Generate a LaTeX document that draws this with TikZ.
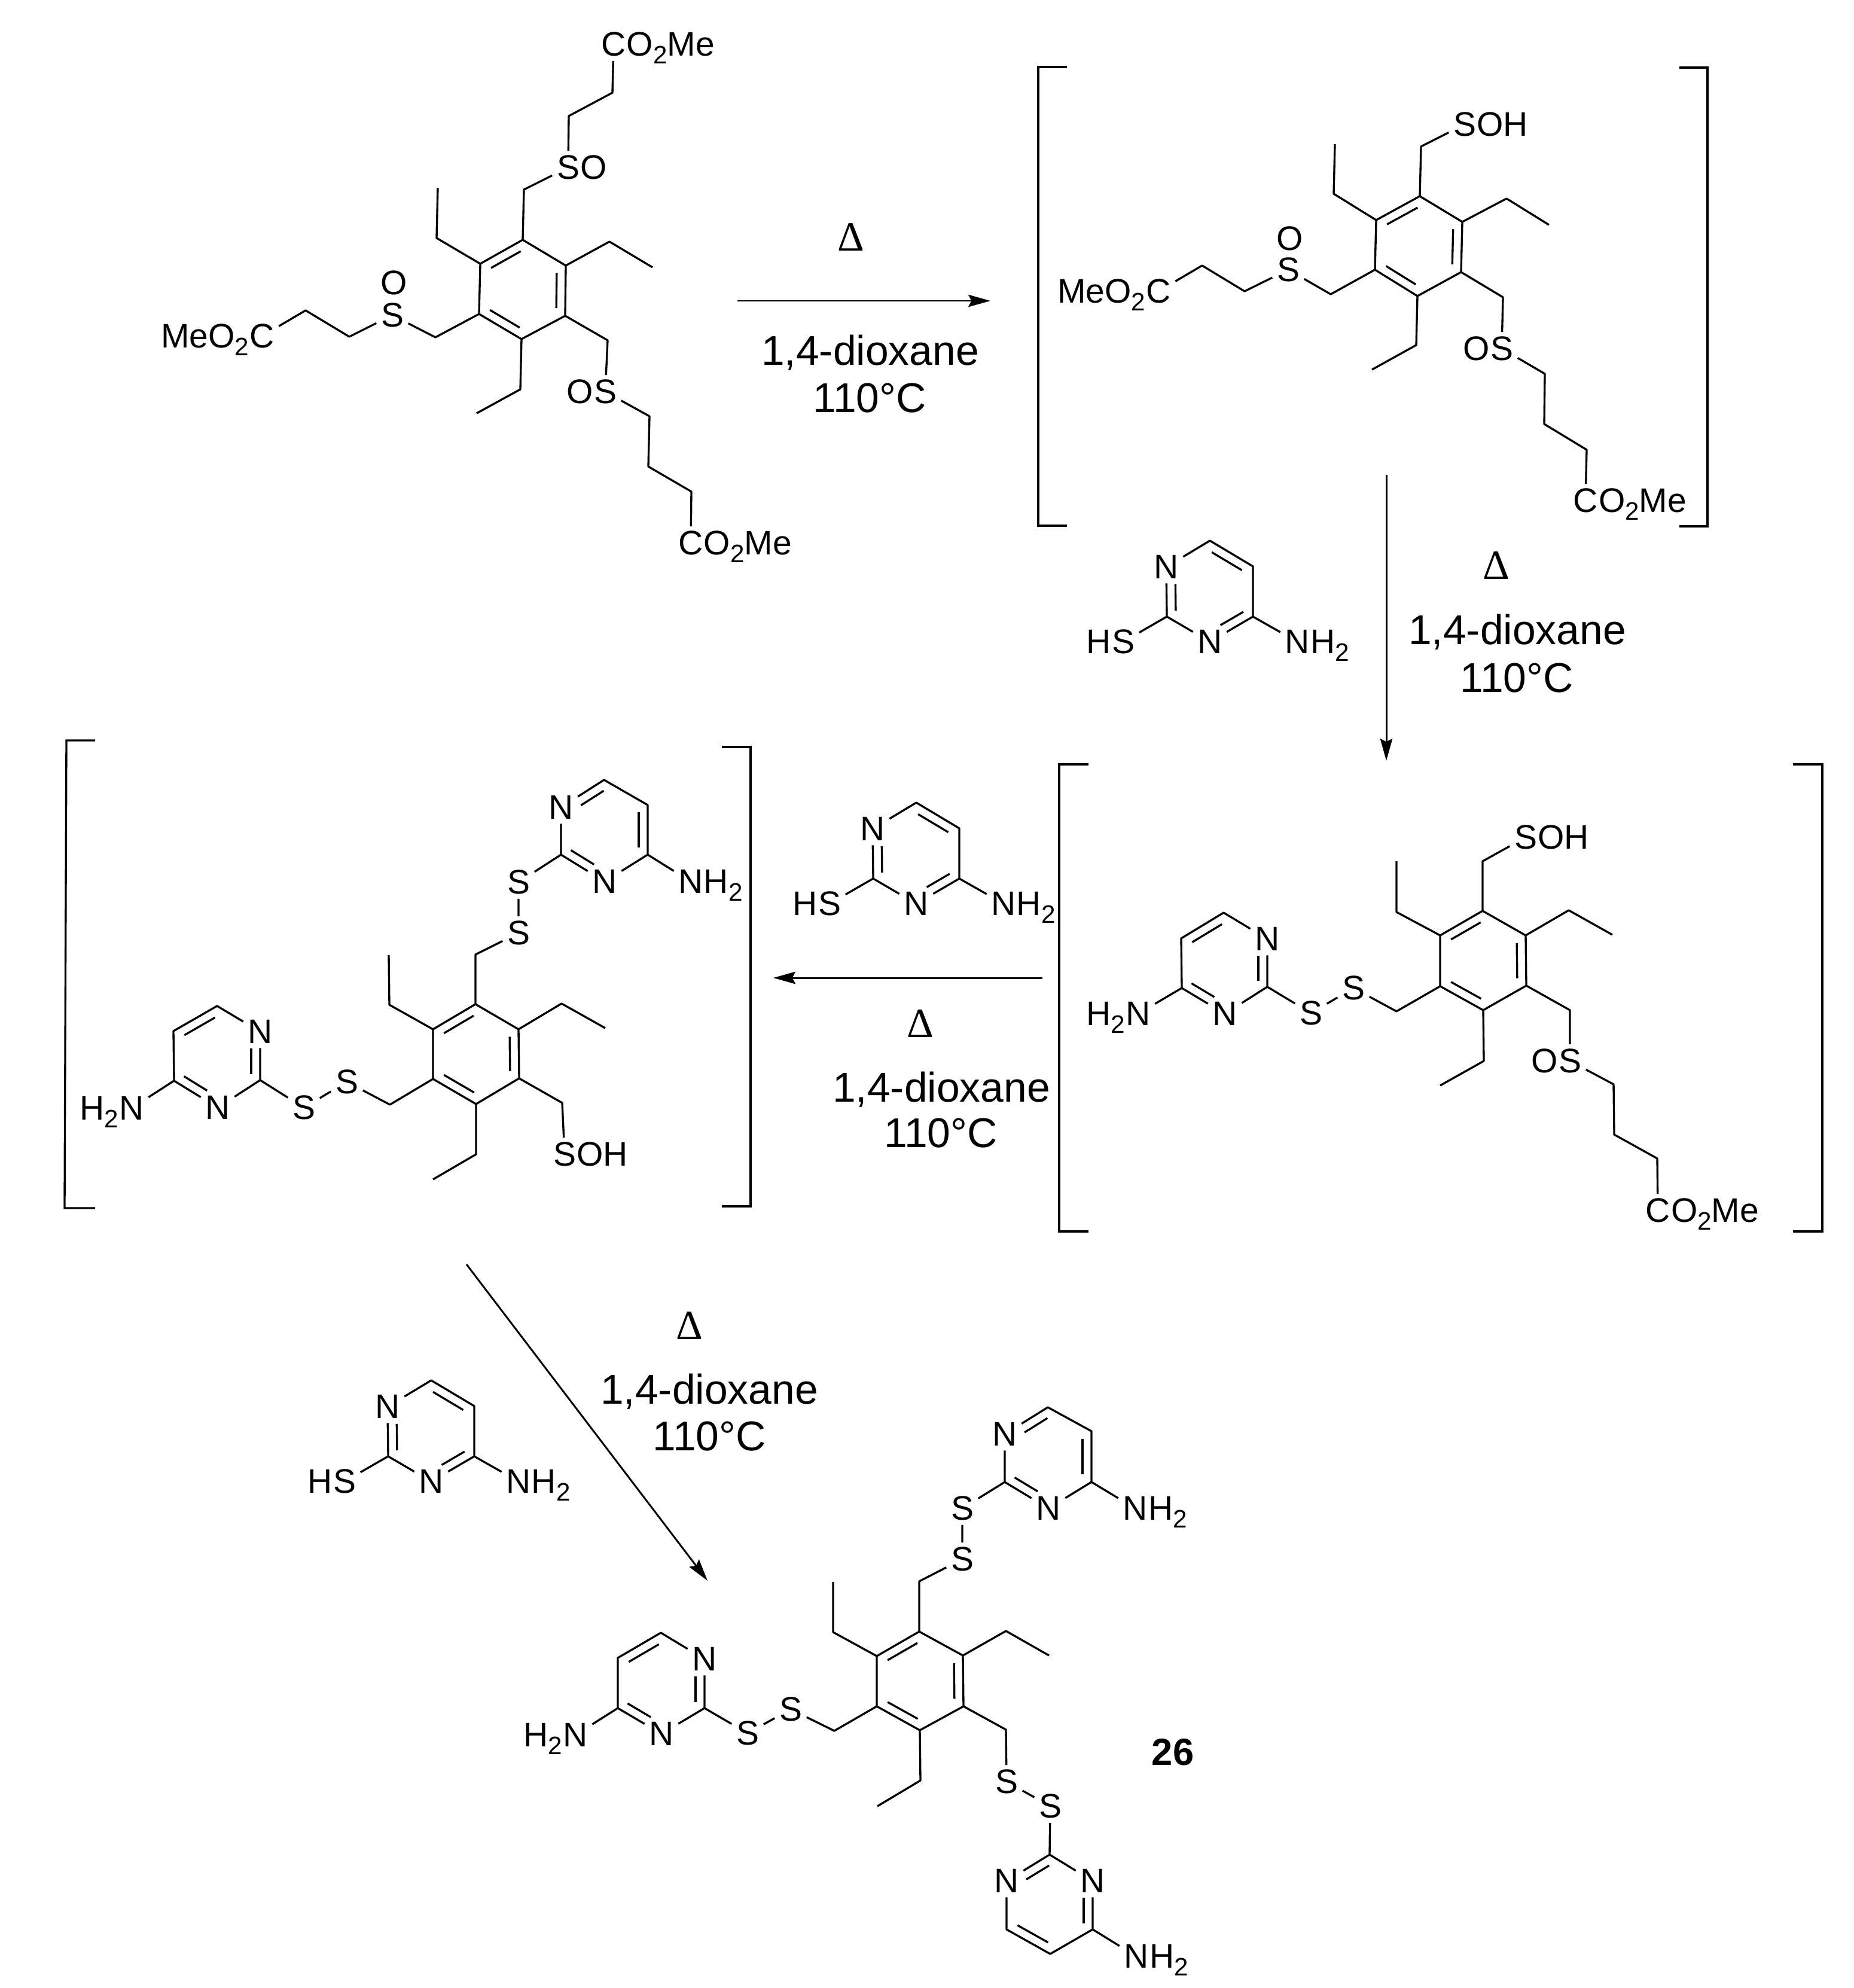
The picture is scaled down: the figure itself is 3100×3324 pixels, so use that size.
\documentclass[tikz,border=0pt]{standalone}
\usepackage{fontspec}
\setmainfont{Liberation Sans}
\newfontfamily\deltafont{Liberation Serif}
\usetikzlibrary{calc,arrows.meta}

\tikzset{
  bond/.style={line width=.95pt, line join=round},
  atom/.style={inner sep=2pt, font=\fontsize{16.2}{18}\selectfont},
  tailr/.style={atom, anchor=base west, inner xsep=0pt, xshift=-2pt},
  taill/.style={atom, anchor=base east, inner xsep=0pt, xshift=2pt},
  cond/.style={inner sep=0pt, font=\fontsize{19.8}{24}\selectfont},
  rxn/.style={line width=.85pt, -{Stealth[length=10.5pt,width=5.8pt,inset=1.5pt]}},
  bracket/.style={line width=.95pt}
}
%% inner line of a double bond, on the right of p->q
\newcommand{\dbl}[4]{\draw[bond] ($(#1)!#3!(#2)!.15cm!-90:(#2)$) -- ($(#2)!#4!(#1)!.15cm!90:(#1)$);}
\newcommand{\subtwo}{\raisebox{-3.6pt}{\fontsize{12}{12}\selectfont 2}}

\begin{document}
\begin{tikzpicture}[x=.01cm,y=-.01cm]
\useasboundingbox (0,0) rectangle (3100,3324);

%%%%% first compound
%% ring
\coordinate (a1) at (874,401);  \coordinate (a2) at (946,444);  \coordinate (a3) at (945,528);
\coordinate (a4) at (872,567);  \coordinate (a5) at (801,525);  \coordinate (a6) at (803,441);
%% ethyl groups
\coordinate (ae1) at (730,398);  \coordinate (af1) at (732,314);
\coordinate (ae2) at (1019,404); \coordinate (af2) at (1091,447);
\coordinate (ae3) at (870,651);  \coordinate (af3) at (797,691);
%% chain vertices
\coordinate (am1) at (876,317);  \coordinate (an1) at (951,194);  \coordinate (ap1) at (1024,155);
\coordinate (am2) at (728,564);  \coordinate (an2) at (584,563);  \coordinate (ap2) at (511,519);
\coordinate (am3) at (1016,569); \coordinate (an3) at (1086,696); \coordinate (ap3) at (1084,780);
\coordinate (aq3) at (1156,822);
%% labels
\node[atom] (as1) at (950,280) {S};
\node[tailr] (ao1) at (as1.base east) {O};
\node[atom] (ac1) at (1026,74) {C};
\node[tailr] (at1) at (ac1.base east) {O\subtwo Me};
\node[atom] (as2) at (656,527) {S};
\node[atom] (ao2) at (659,473) {O};
\node[atom] (ac2) at (438,562) {C};
\node[taill] (at2) at (ac2.base west) {MeO\subtwo};
\node[atom] (as3) at (1012,655) {S};
\node[taill] (ao3) at (as3.base west) {O};
\node[atom] (ac3) at (1155,908) {C};
\node[tailr] (at3) at (ac3.base east) {O\subtwo Me};
%% bonds
\draw[bond] (a1) -- (a2) -- (a3) -- (a4) -- (a5) -- (a6) -- cycle;
\dbl{a6}{a1}{.15}{.15} \dbl{a2}{a3}{.15}{.15} \dbl{a4}{a5}{.15}{.15}
\draw[bond] (a6) -- (ae1) -- (af1);
\draw[bond] (a2) -- (ae2) -- (af2);
\draw[bond] (a4) -- (ae3) -- (af3);
\draw[bond] (a1) -- (am1) -- (as1) -- (an1) -- (ap1) -- (ac1);
\draw[bond] (a5) -- (am2) -- (as2) -- (an2) -- (ap2) -- (ac2);
\draw[bond] (a3) -- (am3) -- (as3) -- (an3) -- (ap3) -- (aq3) -- (ac3);

%%%%% second compound
%% ring
\coordinate (b1) at (2374,328); \coordinate (b2) at (2445,371); \coordinate (b3) at (2443,455);
\coordinate (b4) at (2370,495); \coordinate (b5) at (2299,451); \coordinate (b6) at (2301,368);
%% ethyl groups
\coordinate (be1) at (2230,324); \coordinate (bf1) at (2232,241);
\coordinate (be2) at (2519,332); \coordinate (bf2) at (2590,376);
\coordinate (be3) at (2368,577); \coordinate (bf3) at (2294,618);
%% chain vertices
\coordinate (bm1) at (2376,245);
\coordinate (bm2) at (2225,492); \coordinate (bn2) at (2081,487); \coordinate (bp2) at (2010,444);
\coordinate (bm3) at (2513,497); \coordinate (bn3) at (2583,625); \coordinate (bp3) at (2582,709);
\coordinate (bq3) at (2653,752);
%% labels
\node[atom] (bs1) at (2449,208) {S};
\node[tailr] (bo1) at (bs1.base east) {OH};
\node[atom] (bs2) at (2154,451) {S};
\node[atom] (bo2) at (2157,399) {O};
\node[atom] (bc2) at (1937,487) {C};
\node[taill] (bt2) at (bc2.base west) {MeO\subtwo};
\node[atom] (bs3) at (2511,583) {S};
\node[taill] (bo3) at (bs3.base west) {O};
\node[atom] (bc3) at (2651,837) {C};
\node[tailr] (bt3) at (bc3.base east) {O\subtwo Me};
%% bonds
\draw[bond] (b1) -- (b2) -- (b3) -- (b4) -- (b5) -- (b6) -- cycle;
\dbl{b6}{b1}{.15}{.15} \dbl{b2}{b3}{.15}{.15} \dbl{b4}{b5}{.15}{.15}
\draw[bond] (b6) -- (be1) -- (bf1);
\draw[bond] (b2) -- (be2) -- (bf2);
\draw[bond] (b4) -- (be3) -- (bf3);
\draw[bond] (b1) -- (bm1) -- (bs1);
\draw[bond] (b5) -- (bm2) -- (bs2) -- (bn2) -- (bp2) -- (bc2);
\draw[bond] (b3) -- (bm3) -- (bs3) -- (bn3) -- (bp3) -- (bq3) -- (bc3);
%% brackets
\draw[bracket] (1784,112) -- (1736,112) -- (1736,879) -- (1784,879);
\draw[bracket] (2808,113) -- (2855,113) -- (2855,880) -- (2808,880);

%%%%% third compound
%% ring
\coordinate (c1) at (2479,1523); \coordinate (c2) at (2551,1564); \coordinate (c3) at (2552,1648);
\coordinate (c4) at (2480,1689); \coordinate (c5) at (2408,1649); \coordinate (c6) at (2408,1564);
%% ethyl groups
\coordinate (ce1) at (2335,1525); \coordinate (cf1) at (2335,1440);
\coordinate (ce2) at (2623,1522); \coordinate (cf2) at (2696,1563);
\coordinate (ce3) at (2481,1774); \coordinate (cf3) at (2408,1815);
%% chain vertices
\coordinate (cm1) at (2479,1440);
\coordinate (cm2) at (2335,1691);
\coordinate (cm3) at (2625,1689); \coordinate (cn3) at (2698,1813); \coordinate (cp3) at (2699,1897);
\coordinate (cq3) at (2771,1937);
%% pyrimidine
\coordinate (cy2) at (2119,1650); \coordinate (cy4) at (1976,1652);
\coordinate (cy5) at (1975,1569); \coordinate (cy6) at (2046,1526);
%% labels
\node[atom] (cs1) at (2551,1400) {S};
\node[tailr] (co1) at (cs1.base east) {OH};
\node[atom] (cs2) at (2263,1652) {S};
\node[atom] (cr2) at (2192,1694) {S};
\node[atom] (cn1) at (2119,1570) {N};
\node[atom] (cn2) at (2048,1695) {N};
\node[atom] (ca) at (1903,1695) {N};
\node[taill] (ch) at (ca.base west) {H\subtwo};
\node[atom] (cs3) at (2625,1774) {S};
\node[taill] (co3) at (cs3.base west) {O};
\node[atom] (cc3) at (2772,2024) {C};
\node[tailr] (ct3) at (cc3.base east) {O\subtwo Me};
%% bonds
\draw[bond] (c1) -- (c2) -- (c3) -- (c4) -- (c5) -- (c6) -- cycle;
\dbl{c6}{c1}{.15}{.15} \dbl{c2}{c3}{.15}{.15} \dbl{c4}{c5}{.15}{.15}
\draw[bond] (c6) -- (ce1) -- (cf1);
\draw[bond] (c2) -- (ce2) -- (cf2);
\draw[bond] (c4) -- (ce3) -- (cf3);
\draw[bond] (c1) -- (cm1) -- (cs1);
\draw[bond] (c5) -- (cm2) -- (cs2) -- (cr2) -- (cy2) -- (cn1) -- (cy6) -- (cy5) -- (cy4) -- (cn2) -- (cy2);
\dbl{cn1}{cy2}{.35}{.12} \dbl{cn2}{cy4}{.35}{.12} \dbl{cy5}{cy6}{.15}{.15}
\draw[bond] (cy4) -- (ca);
\draw[bond] (c3) -- (cm3) -- (cs3) -- (cn3) -- (cp3) -- (cq3) -- (cc3);
%% brackets
\draw[bracket] (1820,1278) -- (1771,1278) -- (1771,2059) -- (1820,2059);
\draw[bracket] (2998,1278) -- (3047,1278) -- (3047,2059) -- (2998,2059);

%%%%% fourth compound
%% ring
\coordinate (d1) at (795,1679); \coordinate (d2) at (867,1721); \coordinate (d3) at (868,1803);
\coordinate (d4) at (796,1846); \coordinate (d5) at (724,1804); \coordinate (d6) at (724,1721);
%% ethyl groups
\coordinate (de1) at (651,1680); \coordinate (df1) at (650,1597);
\coordinate (de2) at (939,1678); \coordinate (df2) at (1012,1719);
\coordinate (de3) at (796,1930); \coordinate (df3) at (724,1972);
%% chain vertices
\coordinate (dm1) at (795,1596);
\coordinate (dm2) at (652,1847);
\coordinate (dm3) at (940,1844);
%% pyrimidines
\coordinate (dy2) at (938,1429);  \coordinate (dy4) at (1083,1429);
\coordinate (dy5) at (1083,1346); \coordinate (dy6) at (1010,1304);
\coordinate (dz2) at (435,1806);  \coordinate (dz4) at (291,1807);
\coordinate (dz5) at (290,1724);  \coordinate (dz6) at (363,1682);
%% labels
\node[atom] (ds1) at (867,1560) {S};
\node[atom] (dr1) at (867,1475) {S};
\node[atom] (dn1) at (938,1350) {N};
\node[atom] (dn2) at (1011,1474) {N};
\node[atom] (da) at (1155,1474) {N};
\node[tailr] (dh) at (da.base east) {H\subtwo};
\node[atom] (ds2) at (580,1809) {S};
\node[atom] (dr2) at (508,1852) {S};
\node[atom] (dn3) at (435,1725) {N};
\node[atom] (dn4) at (364,1852) {N};
\node[atom] (db) at (220,1853) {N};
\node[taill] (di) at (db.base west) {H\subtwo};
\node[atom] (ds3) at (944,1930) {S};
\node[tailr] (do3) at (ds3.base east) {OH};
%% bonds
\draw[bond] (d1) -- (d2) -- (d3) -- (d4) -- (d5) -- (d6) -- cycle;
\dbl{d6}{d1}{.15}{.15} \dbl{d2}{d3}{.15}{.15} \dbl{d4}{d5}{.15}{.15}
\draw[bond] (d6) -- (de1) -- (df1);
\draw[bond] (d2) -- (de2) -- (df2);
\draw[bond] (d4) -- (de3) -- (df3);
\draw[bond] (d1) -- (dm1) -- (ds1) -- (dr1) -- (dy2) -- (dn1) -- (dy6) -- (dy5) -- (dy4) -- (dn2) -- (dy2);
\dbl{dn1}{dy6}{.35}{.12} \dbl{dy5}{dy4}{.15}{.15} \dbl{dn2}{dy2}{.35}{.12}
\draw[bond] (dy4) -- (da);
\draw[bond] (d5) -- (dm2) -- (ds2) -- (dr2) -- (dz2) -- (dn3) -- (dz6) -- (dz5) -- (dz4) -- (dn4) -- (dz2);
\dbl{dn3}{dz2}{.35}{.12} \dbl{dn4}{dz4}{.35}{.12} \dbl{dz5}{dz6}{.15}{.15}
\draw[bond] (dz4) -- (db);
\draw[bond] (d3) -- (dm3) -- (ds3);
%% brackets
\draw[bracket] (159,1238) -- (111,1238) -- (108,2020) -- (159,2020);
\draw[bracket] (1207,1249) -- (1255,1249) -- (1255,2017) -- (1207,2017);

%%%%% final compound
%% ring
\coordinate (e1) at (1537,2728); \coordinate (e2) at (1610,2768); \coordinate (e3) at (1611,2853);
\coordinate (e4) at (1538,2893); \coordinate (e5) at (1466,2853); \coordinate (e6) at (1466,2769);
%% ethyl groups
\coordinate (ee1) at (1393,2729); \coordinate (ef1) at (1393,2645);
\coordinate (ee2) at (1682,2727); \coordinate (ef2) at (1754,2768);
\coordinate (ee3) at (1539,2977); \coordinate (ef3) at (1467,3020);
%% chain vertices
\coordinate (em1) at (1537,2644);
\coordinate (em2) at (1395,2894);
\coordinate (em3) at (1682,2892);
%% pyrimidines
\coordinate (ey2) at (1680,2478); \coordinate (ey4) at (1825,2478);
\coordinate (ey5) at (1825,2393); \coordinate (ey6) at (1752,2353);
\coordinate (ez2) at (1178,2856); \coordinate (ez4) at (1033,2856);
\coordinate (ez5) at (1033,2772); \coordinate (ez6) at (1105,2730);
\coordinate (ex2) at (1755,3101); \coordinate (ex4) at (1827,3226);
\coordinate (ex5) at (1756,3267); \coordinate (ex6) at (1683,3226);
%% labels
\node[atom] (es1) at (1609,2607) {S};
\node[atom] (er1) at (1609,2522) {S};
\node[atom] (en1) at (1680,2398) {N};
\node[atom] (en2) at (1753,2522) {N};
\node[atom] (ea) at (1898,2522) {N};
\node[tailr] (eh) at (ea.base east) {H\subtwo};
\node[atom] (es2) at (1322,2858) {S};
\node[atom] (er2) at (1250,2898) {S};
\node[atom] (en3) at (1178,2774) {N};
\node[atom] (en4) at (1106,2899) {N};
\node[atom] (eb) at (962,2901) {N};
\node[taill] (ei) at (eb.base west) {H\subtwo};
\node[atom] (es3) at (1683,2979) {S};
\node[atom] (er3) at (1756,3020) {S};
\node[atom] (en5) at (1827,3145) {N};
\node[atom] (en6) at (1683,3145) {N};
\node[atom] (ec) at (1900,3271) {N};
\node[tailr] (ej) at (ec.base east) {H\subtwo};
\node[inner sep=0pt, font=\fontsize{18}{20}\selectfont\bfseries] (enum) at (1961,2930) {26};
%% bonds
\draw[bond] (e1) -- (e2) -- (e3) -- (e4) -- (e5) -- (e6) -- cycle;
\dbl{e6}{e1}{.15}{.15} \dbl{e2}{e3}{.15}{.15} \dbl{e4}{e5}{.15}{.15}
\draw[bond] (e6) -- (ee1) -- (ef1);
\draw[bond] (e2) -- (ee2) -- (ef2);
\draw[bond] (e4) -- (ee3) -- (ef3);
\draw[bond] (e1) -- (em1) -- (es1) -- (er1) -- (ey2) -- (en1) -- (ey6) -- (ey5) -- (ey4) -- (en2) -- (ey2);
\dbl{en1}{ey6}{.35}{.12} \dbl{ey5}{ey4}{.15}{.15} \dbl{en2}{ey2}{.35}{.12}
\draw[bond] (ey4) -- (ea);
\draw[bond] (e5) -- (em2) -- (es2) -- (er2) -- (ez2) -- (en3) -- (ez6) -- (ez5) -- (ez4) -- (en4) -- (ez2);
\dbl{en3}{ez2}{.35}{.12} \dbl{en4}{ez4}{.35}{.12} \dbl{ez5}{ez6}{.15}{.15}
\draw[bond] (ez4) -- (eb);
\draw[bond] (e3) -- (em3) -- (es3) -- (er3) -- (ex2) -- (en5) -- (ex4) -- (ex5) -- (ex6) -- (en6) -- (ex2);
\dbl{en6}{ex2}{.35}{.12} \dbl{en5}{ex4}{.35}{.12} \dbl{ex5}{ex6}{.15}{.15}
\draw[bond] (ex4) -- (ec);

%%%%% thiol reagents
%% first
\coordinate (r2) at (1951,1031); \coordinate (r4) at (2095,1031);
\coordinate (r5) at (2095,947);  \coordinate (r6) at (2023,904);
\node[atom] (rn1) at (1950,948) {N};
\node[atom] (rn3) at (2023,1073) {N};
\node[atom] (rs) at (1878,1073) {S};
\node[taill] (rh) at (rs.base west) {H};
\node[atom] (ra) at (2169,1073) {N};
\node[tailr] (ri) at (ra.base east) {H\subtwo};
\draw[bond] (rs) -- (r2) -- (rn1) -- (r6) -- (r5) -- (r4) -- (rn3) -- (r2);
\draw[bond] (r4) -- (ra);
\dbl{r2}{rn1}{.12}{.35} \dbl{r6}{r5}{.15}{.15} \dbl{r4}{rn3}{.12}{.35}
%% second
\coordinate (s2) at (1460,1469); \coordinate (s4) at (1604,1469);
\coordinate (s5) at (1604,1385); \coordinate (s6) at (1532,1342);
\node[atom] (sn1) at (1459,1386) {N};
\node[atom] (sn3) at (1532,1511) {N};
\node[atom] (ss) at (1387,1511) {S};
\node[taill] (sh) at (ss.base west) {H};
\node[atom] (sa) at (1678,1511) {N};
\node[tailr] (si) at (sa.base east) {H\subtwo};
\draw[bond] (ss) -- (s2) -- (sn1) -- (s6) -- (s5) -- (s4) -- (sn3) -- (s2);
\draw[bond] (s4) -- (sa);
\dbl{s2}{sn1}{.12}{.35} \dbl{s6}{s5}{.15}{.15} \dbl{s4}{sn3}{.12}{.35}
%% third
\coordinate (t2) at (649,2435); \coordinate (t4) at (793,2435);
\coordinate (t5) at (793,2351); \coordinate (t6) at (721,2308);
\node[atom] (tn1) at (648,2352) {N};
\node[atom] (tn3) at (721,2477) {N};
\node[atom] (ts) at (576,2477) {S};
\node[taill] (th) at (ts.base west) {H};
\node[atom] (ta) at (867,2477) {N};
\node[tailr] (ti) at (ta.base east) {H\subtwo};
\draw[bond] (ts) -- (t2) -- (tn1) -- (t6) -- (t5) -- (t4) -- (tn3) -- (t2);
\draw[bond] (t4) -- (ta);
\dbl{t2}{tn1}{.12}{.35} \dbl{t6}{t5}{.15}{.15} \dbl{t4}{tn3}{.12}{.35}

%%%%% reaction arrows
\coordinate (u1) at (1233,503);  \coordinate (v1) at (1656,503);
\coordinate (u2) at (2318,794);  \coordinate (v2) at (2318,1272);
\coordinate (u3) at (1743,1635); \coordinate (v3) at (1293,1635);
\coordinate (u4) at (780,2114);  \coordinate (v4) at (1183,2643);
\draw[rxn] (u1) -- (v1);
\draw[rxn] (u2) -- (v2);
\draw[rxn] (u3) -- (v3);
\draw[rxn] (u4) -- (v4);

%%%%% conditions
\node[cond] (heat1) at (1423,397) {\deltafont Δ};
\node[cond] (solv1) at (1455,590) {1,4-dioxane};
\node[cond] (temp1) at (1454,666) {110°C};
\node[cond] (heat2) at (2502,946) {\deltafont Δ};
\node[cond] (solv2) at (2537,1057) {1,4-dioxane};
\node[cond] (temp2) at (2536,1134) {110°C};
\node[cond] (heat3) at (1539,1711) {\deltafont Δ};
\node[cond] (solv3) at (1574,1822) {1,4-dioxane};
\node[cond] (temp3) at (1573,1895) {110°C};
\node[cond] (heat4) at (1153,2216) {\deltafont Δ};
\node[cond] (solv4) at (1186,2327) {1,4-dioxane};
\node[cond] (temp4) at (1186,2402) {110°C};
\end{tikzpicture}
\end{document}
